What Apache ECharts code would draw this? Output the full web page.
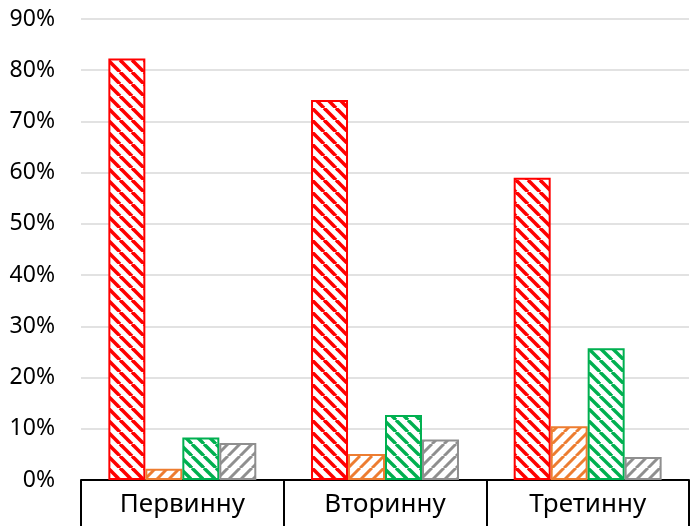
<!DOCTYPE html>
<html>
<head>
<meta charset="utf-8">
<script src="https://cdn.jsdelivr.net/npm/echarts@6/dist/echarts.min.js"></script>
<style>
html,body{margin:0;padding:0;background:#fff;}
#chart{width:692px;height:526px;}
</style>
</head>
<body>
<div id="chart"></div>
<script>
const categories = ['Первинну', 'Вторинну', 'Третинну'];
const seriesA = [0.823, 0.742, 0.590];
const seriesB = [0.022, 0.051, 0.105];
const seriesC = [0.083, 0.127, 0.257];
const seriesD = [0.072, 0.079, 0.045];
const yTicks = [0, 0.1, 0.2, 0.3, 0.4, 0.5, 0.6, 0.7, 0.8, 0.9];

function hatch(color, dir, lw) {
  const p = 12;
  const c = document.createElement('canvas');
  c.width = p; c.height = p;
  const g = c.getContext('2d');
  g.fillStyle = '#fff';
  g.fillRect(0, 0, p, p);
  g.strokeStyle = color;
  g.lineWidth = lw;
  for (let k = -1; k <= 1; k++) {
    g.beginPath();
    if (dir === 'down') {
      g.moveTo(k * p, 0); g.lineTo(k * p + p, p);
    } else {
      g.moveTo(k * p, p); g.lineTo(k * p + p, 0);
    }
    g.stroke();
  }
  return { image: c, repeat: 'repeat' };
}

const styles = [
  { color: '#FF0000', dir: 'down', lw: 3.6 },
  { color: '#ED7D31', dir: 'up', lw: 3.0 },
  { color: '#00B050', dir: 'down', lw: 3.4 },
  { color: '#8F8F8F', dir: 'up', lw: 3.0 }
];
const data = [seriesA, seriesB, seriesC, seriesD];
const names = ['A', 'B', 'C', 'D'];

const chart = echarts.init(document.getElementById('chart'), null, { renderer: 'canvas' });
chart.setOption({
  animation: false,
  backgroundColor: '#fff',
  textStyle: { fontFamily: 'Noto Sans' },
  grid: { left: 81, right: 3, top: 19, bottom: 46, containLabel: false },
  xAxis: {
    type: 'category',
    data: categories,
    axisLine: { lineStyle: { color: '#000', width: 2 } },
    axisTick: { show: true, interval: 0, length: 46, lineStyle: { color: '#000', width: 2 } },
    axisLabel: { fontSize: 26, color: '#000', margin: 12, fontFamily: 'Noto Sans' }
  },
  yAxis: {
    type: 'value',
    min: 0, max: 0.9, interval: 0.1,
    axisLine: { show: false },
    axisTick: { show: false },
    splitLine: { lineStyle: { color: '#D9D9D9', width: 1.5 } },
    axisLabel: {
      fontSize: 23, color: '#000', margin: 26, fontFamily: 'Noto Sans',
      formatter: v => {
        const t = yTicks.find(x => Math.abs(x - v) < 1e-9);
        return Math.round((t !== undefined ? t : v) * 100) + '%';
      }
    }
  },
  series: data.map((d, i) => ({
    name: names[i],
    type: 'bar',
    data: d,
    barGap: '0%',
    barCategoryGap: '27%',
    itemStyle: {
      color: hatch(styles[i].color, styles[i].dir, styles[i].lw),
      borderColor: styles[i].color,
      borderWidth: 2
    }
  }))
});
</script>
</body>
</html>
